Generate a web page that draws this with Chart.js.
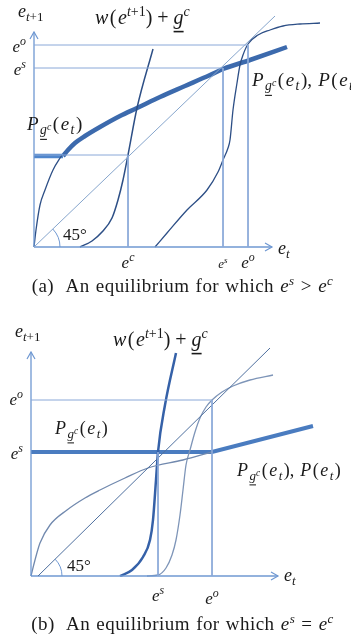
<!DOCTYPE html>
<html><head><meta charset="utf-8">
<script src="https://cdn.jsdelivr.net/npm/chart.js@4/dist/chart.umd.min.js"></script>
<style>
html,body{margin:0;padding:0;background:#fff;width:351px;height:639px;overflow:hidden;}
.wrap{position:absolute;left:0;width:351px;}
.cap{position:absolute;left:7px;width:351px;text-align:center;font-family:"Liberation Serif","DejaVu Serif",serif;font-size:19px;letter-spacing:0.45px;word-spacing:1px;color:#1a1a1a;white-space:nowrap;}
.cap i{font-style:italic}
.cap sup{font-size:13px;vertical-align:7px;line-height:0}
</style></head><body>
<div class="wrap" style="top:0;height:300px"><canvas id="ca" width="351" height="300"></canvas></div>
<div class="cap" style="top:275px">(a)&nbsp; An equilibrium for which <i>e</i><sup><i>s</i></sup> &gt; <i>e</i><sup><i>c</i></sup></div>
<div class="wrap" style="top:300px;height:339px"><canvas id="cb" width="351" height="339"></canvas></div>
<div class="cap" style="top:613px">(b)&nbsp; An equilibrium for which <i>e</i><sup><i>s</i></sup> = <i>e</i><sup><i>c</i></sup></div>
<script>
// ---------- Panel (a) data (x = e_t, y = e_{t+1}) ----------
const aAxisX = [[0,0],[238,0]];
const aAxisY = [[0,0],[0,215]];
const aDiag  = [[0,0],[241,231]];
const aGuideC = [[0,92],[94,92],[94,0]];
const aGuideS = [[0,179],[189,179],[189,0]];
const aGuideO = [[0,202],[214,202],[214,0]];
const aPgFlat = [[0,91],[29,91]];
const aPg = [[29,91],[34,97],[41,104],[51,111],[66,120],[86,131],[103,139],[126,150],[151,161],[176,172],[189,178],[216,187],[253,200]];
const aLow = [[0,0],[2,17],[6,42],[11,57],[19,77],[28,92]];
const aP = [[121,0],[133,14],[153,37],[173,57],[184,75],[189,87],[194,99],[196,107],[199,137],[203,164],[206,182],[209,192],[214,203],[224,212],[236,217],[249,221],[266,223],[286,224]];
const aW = [[46,0],[58,6],[68,15],[78,29],[84,47],[89,67],[94,92],[103,139],[119,198]];
const aTicks = [['c',94],['s',189],['o',214]];

// ---------- Panel (b) data ----------
const bAxisX = [[0,0],[247,0]];
const bAxisY = [[0,0],[0,224]];
const bDiag  = [[7,0],[239,228]];
const bGuideS = [[127,124],[127,0]];
const bGuideO = [[0,176],[181,176],[181,0]];
const bPg = [[0,124],[181,124],[282,150]];
const bLow = [[0,0],[4,16],[9,33],[19,51],[36,66],[54,78],[69,86],[94,98],[117,108],[152,116],[181,124]];
const bP = [[116,0],[127,1],[135,8],[141,21],[145,36],[149,61],[152,86],[155,111],[159,126],[164,144],[169,158],[175,169],[181,176],[191,184],[202,190],[219,196],[242,201]];
const bW = [[89,0],[101,6],[112,19],[119,36],[122,56],[125,96],[127,124],[134,171],[145,223]];
const bTicks = [['s',127],['o',181]];

const FAM='"Liberation Serif","DejaVu Serif","Times New Roman",serif';
function fnt(sz,it){return (it?'italic ':'')+sz.toFixed(1)+'px '+FAM;}
function drawRich(ctx,segs,x,y,S,align){
  const items=segs.map(s=>{
    const f=s[1]||''; let sz=S, dy=0;
    if(f.includes('p')){sz=S*0.7;dy=-S*0.4;}
    if(f.includes('b')){sz=S*0.72;dy=S*0.22;}
    if(f.includes('q')){sz=S*0.52;dy=-S*0.02;}
    const it=f.includes('i');
    ctx.font=fnt(sz,it);
    const w=ctx.measureText(s[0]).width+(f.includes('k')?1.5:0);
    return {t:s[0],sz,dy,it,w,u:f.includes('u')};
  });
  const tot=items.reduce((a,b)=>a+b.w,0);
  let cx = align==='center'?x-tot/2: align==='right'?x-tot:x;
  ctx.textBaseline='alphabetic';
  for(const it of items){
    ctx.font=fnt(it.sz,it.it); ctx.fillText(it.t,cx,y+it.dy);
    if(it.u){ ctx.fillRect(cx, y+it.dy+it.sz*0.34, it.w, Math.max(1,it.sz*0.08)); }
    cx+=it.w;
  }
}
const P_G = [['P','ik'],['g','ibu'],['c','iqk'],['(','k'],['e','ik'],['t','ibk'],[')']];
const P_GP = P_G.concat([[', ','k'],['P','ik'],['(','k'],['e','ik'],['t','ibk'],[')']]);
const W_LBL = [['w','ik'],['(','k'],['e','i'],['t','ip'],['+1','p'],[') + '],['g','iu'],['c','ip']];
const E_T1 = [['e','i'],['t','ib'],['+1','b']];
const E_T = [['e','i'],['t','ib']];
function eSup(s){return [['e','i'],[s,'ip']];}

const mathPlugin={
  id:'mathPlugin',
  afterDatasetsDraw(chart,args,opts){
    const ctx=chart.ctx, xs=chart.scales.x, ys=chart.scales.y;
    const X=v=>xs.getPixelForValue(v), Y=v=>ys.getPixelForValue(v);
    ctx.save();
    ctx.strokeStyle='#6f98d2'; ctx.lineWidth=1.2;
    const ax=opts.axisX[1][0], ay=opts.axisY[1][1];
    ctx.beginPath();
    ctx.moveTo(X(ax)-7,Y(0)-4); ctx.lineTo(X(ax),Y(0)); ctx.lineTo(X(ax)-7,Y(0)+4);
    ctx.moveTo(X(0)-4,Y(ay)+7); ctx.lineTo(X(0),Y(ay)); ctx.lineTo(X(0)+4,Y(ay)+7);
    ctx.stroke();
    const d=opts.diag, ang=Math.atan2(d[1][1]-d[0][1],d[1][0]-d[0][0]);
    ctx.strokeStyle='#6f98d2'; ctx.lineWidth=1;
    ctx.beginPath(); ctx.arc(X(d[0][0]),Y(0),opts.arcR,-ang,0); ctx.stroke();
    ctx.fillStyle='#1a1a1a';
    for(const L of opts.labels){
      drawRich(ctx,L.segs,X(L.x),Y(L.y),L.size||17,L.align||'left');
    }
    ctx.restore();
  }
};

function pts(a){return a.map(p=>({x:p[0],y:p[1]}));}
function ds(a,color,w,extra){return Object.assign({data:pts(a),borderColor:color,borderWidth:w,pointRadius:0,fill:false,tension:0,clip:false},extra||{});}
const smooth={cubicInterpolationMode:'monotone'};

function makeChart(id,pad,datasets,plug){
  return new Chart(document.getElementById(id),{
    type:'line',
    data:{datasets},
    options:{
      responsive:false,animation:false,devicePixelRatio:1,
      layout:{padding:pad},
      scales:{x:{type:'linear',min:0,max:300,display:false},y:{type:'linear',min:0,max:240,display:false}},
      plugins:{legend:{display:false},tooltip:{enabled:false},mathPlugin:plug},
      elements:{point:{radius:0}}
    },
    plugins:[mathPlugin]
  });
}

const AXC='#6f98d2', GDC='#8aa8d8', DGC='#86a5cc', DARK='#2d4f86';
makeChart('ca',{left:34,right:17,top:7,bottom:53},[
  ds(aGuideC,GDC,1), ds(aGuideS,GDC,1), ds(aGuideO,GDC,1),
  ds(aDiag,DGC,1),
  ds(aAxisX,AXC,1.3), ds(aAxisY,AXC,1.3),
  ds(aLow,DARK,1.3,smooth),
  ds(aP,DARK,1.3,smooth),
  ds(aW,DARK,1.5,smooth),
  ds(aPgFlat,'#4f86cc',4.5),
  ds(aPg,'#3c6aad',4.5,smooth)
],{axisX:aAxisX,axisY:aAxisY,diag:aDiag,arcR:26,labels:[
  {segs:E_T1,x:-16,y:230,size:18},
  {segs:W_LBL,x:61,y:223,size:20},
  {segs:eSup('o'),x:-8,y:195,align:'right'},
  {segs:eSup('s'),x:-8,y:172,align:'right'},
  {segs:P_G,x:-7,y:117,size:19},
  {segs:P_GP,x:218,y:161,size:19},
  {segs:eSup(aTicks[0][0]),x:aTicks[0][1],y:-21,align:'center'},
  {segs:eSup(aTicks[1][0]),x:aTicks[1][1],y:-21,align:'center',size:13},
  {segs:eSup(aTicks[2][0]),x:aTicks[2][1],y:-21,align:'center'},
  {segs:E_T,x:244,y:-7,size:18},
  {segs:[['45°']],x:29,y:7,size:17}
]});

makeChart('cb',{left:31,right:20,top:36,bottom:63},[
  ds(bGuideS,GDC,1), ds(bGuideO,GDC,1),
  ds(bDiag,'#4e6f9e',1),
  ds(bAxisX,AXC,1.3), ds(bAxisY,AXC,1.3),
  ds(bLow,'#7189ae',1.3,smooth),
  ds(bP,'#7e95b8',1.3,smooth),
  ds(bW,'#3561a8',2.5,smooth),
  ds(bPg,'#4a7cc0',4)
],{axisX:bAxisX,axisY:bAxisY,diag:bDiag,arcR:24,labels:[
  {segs:E_T1,x:-16,y:239,size:18},
  {segs:W_LBL,x:82,y:230,size:20},
  {segs:eSup('o'),x:-8,y:171,align:'right'},
  {segs:eSup('s'),x:-8,y:117,align:'right'},
  {segs:P_G,x:24,y:142,size:18},
  {segs:P_GP,x:206,y:100,size:18},
  {segs:eSup(bTicks[0][0]),x:bTicks[0][1],y:-25,align:'center'},
  {segs:eSup(bTicks[1][0]),x:bTicks[1][1],y:-28,align:'center'},
  {segs:E_T,x:253,y:-5,size:18},
  {segs:[['45°']],x:36,y:5,size:17}
]});
</script>
</body></html>
